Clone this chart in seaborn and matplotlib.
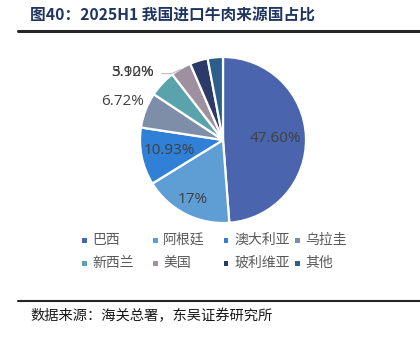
import numpy as np
import matplotlib
matplotlib.use("Agg")
import matplotlib.pyplot as plt
from matplotlib.patches import Rectangle
from matplotlib.lines import Line2D
import seaborn as sns

# ---- data ----
categories = ["巴西", "阿根廷", "澳大利亚", "乌拉圭", "新西兰", "美国", "玻利维亚", "其他"]
shares = [47.60, 17.00, 10.93, 6.72, 5.10, 3.92, 3.40, 2.90]
share_labels = ["47.60%", "17%", "10.93%", "6.72%", "5.10%", "3.92%", "", ""]
title = "图40：2025H1 我国进口牛肉来源国占比"
source = "数据来源：海关总署，东吴证券研究所"

# ---- style ----
sns.set_style("white")
plt.rcParams["font.family"] = ["Noto Sans CJK SC", "DejaVu Sans"]
colors = ["#4a65ad", "#5f9dd5", "#2f80d6", "#7e8ea8", "#5aa3ad", "#9f909f", "#2b3a66", "#2c5e8c"]

W, H = 420, 340
fig = plt.figure(figsize=(W / 100, H / 100), dpi=100)

cx, cy, r = 223, 140, 83
ax = fig.add_axes([(cx - r) / W, (H - cy - r) / H, 2 * r / W, 2 * r / H])
wedges, _ = ax.pie(shares, colors=colors, startangle=90, counterclock=False,
                   wedgeprops=dict(edgecolor="white", linewidth=1.6))
ax.set_xlim(-1, 1)
ax.set_ylim(-1, 1)
ax.set_aspect("equal")

# label distances (fraction of radius) per slice
label_dist = [0.63, 0.80, 0.66, 1.30, 1.36, 1.36, 0, 0]
for i, (w, lab) in enumerate(zip(wedges, share_labels)):
    if not lab:
        continue
    ang = np.deg2rad((w.theta1 + w.theta2) / 2)
    d = label_dist[i]
    if i in (4, 5):
        ang = np.deg2rad(143.5)
    x, y = d * np.cos(ang), d * np.sin(ang)
    ax.text(x, y, lab, ha="center", va="center", fontsize=11, color="#404040",
            clip_on=False, family=["Open Sans", "DejaVu Sans"])

# leader line to the 美国 slice
wus = wedges[5]
a_us = np.deg2rad((wus.theta1 + wus.theta2) / 2)
ax.add_line(Line2D([-0.74, -0.62, 0.99 * np.cos(a_us)],
                   [0.80, 0.80, 0.99 * np.sin(a_us)],
                   color="#bfbfbf", lw=0.8, clip_on=False))

# title and rules
fig.text(30 / W, 1 - 16 / H, title, fontsize=11.3, fontweight="bold", color="#1f3560",
         ha="left", va="center", family=["Noto Sans CJK SC", "DejaVu Sans"])
fig.add_artist(Line2D([18 / W, 1], [1 - 31 / H, 1 - 31 / H], color="#262626", lw=2.2))
fig.add_artist(Line2D([18 / W, 1], [1 - 301 / H, 1 - 301 / H], color="#262626", lw=1.5))
fig.text(30 / W, 1 - 316 / H, source, fontsize=10.3, color="#1a1a1a", ha="left", va="center")

# legend (4 columns x 2 rows)
col_x = [84, 155, 226, 297]
row_y = [240, 263]
for i, (cat, c) in enumerate(zip(categories, colors)):
    mx = col_x[i % 4]
    my = row_y[i // 4]
    s = 5
    fig.add_artist(Rectangle(((mx - s / 2) / W, 1 - (my + s / 2) / H), s / W, s / H,
                             facecolor=c, edgecolor="none", transform=fig.transFigure))
    fig.text((mx + 8) / W, 1 - my / H, cat, fontsize=10, color="#595959",
             ha="left", va="center")

fig.savefig("out.png", dpi=100)
